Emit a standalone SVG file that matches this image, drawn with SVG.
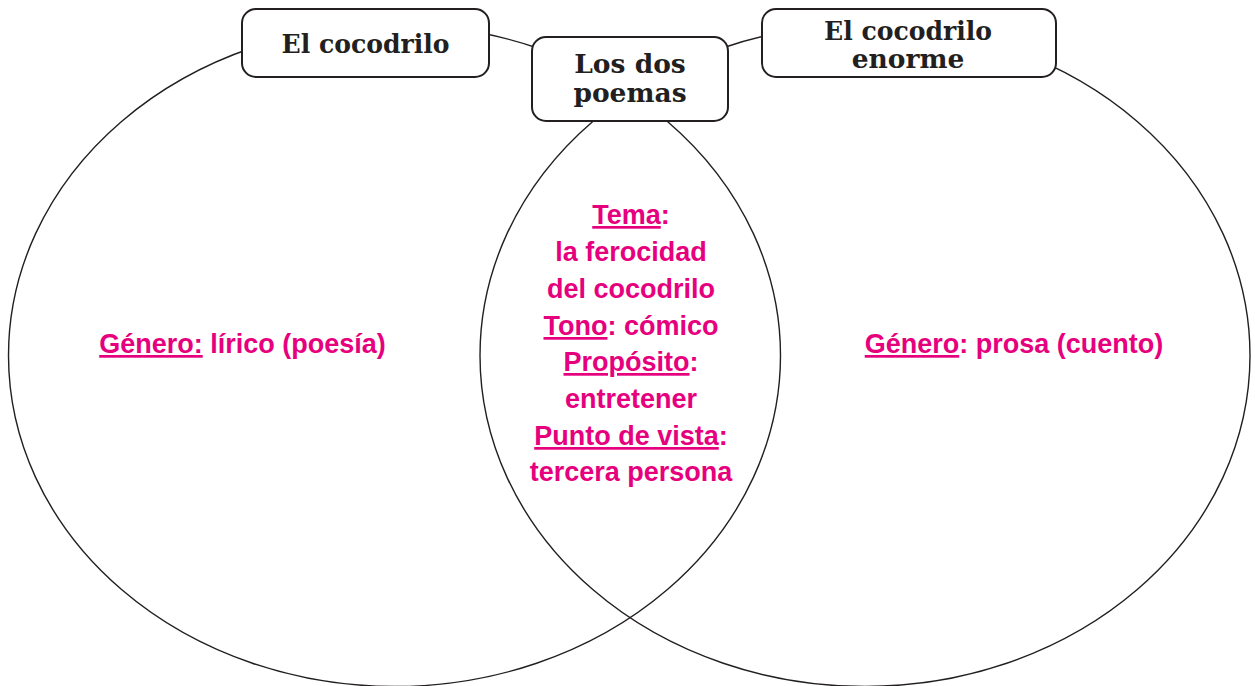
<svg xmlns="http://www.w3.org/2000/svg" width="1255" height="686" viewBox="0 0 1255 686">
<style>
.venn{fill:none;stroke:#231f20;stroke-width:1.4}
.box{fill:#fff;stroke:#231f20;stroke-width:2}
.hd{font-family:"DejaVu Serif",serif;font-weight:bold;font-size:26.5px;fill:#231f20;text-anchor:middle}
.pk{font-family:"Liberation Sans",Arial,sans-serif;font-weight:bold;font-size:27px;fill:#e6007e;text-anchor:middle}
.u{text-decoration:underline}
</style>
<rect width="1255" height="686" fill="#fff"/>
<g id="connectors">
<ellipse class="venn" cx="394.5" cy="355.5" rx="386" ry="331"/>
<ellipse class="venn" cx="865" cy="355.5" rx="385" ry="331"/>
</g>
<g id="node-cocodrilo">
<rect class="box" x="242" y="9" width="247" height="68" rx="14"/>
<text class="hd" x="365.5" y="53" textLength="168" lengthAdjust="spacingAndGlyphs">El cocodrilo</text>
</g>
<g id="node-dos">
<rect class="box" x="532" y="37" width="196" height="84" rx="14"/>
<text class="hd" x="630" y="73">Los dos</text>
<text class="hd" x="630" y="102">poemas</text>
</g>
<g id="node-enorme">
<rect class="box" x="762" y="9" width="294" height="68" rx="14"/>
<text class="hd" x="908" y="40" textLength="168" lengthAdjust="spacingAndGlyphs">El cocodrilo</text>
<text class="hd" x="908" y="68">enorme</text>
</g>
<g id="left-text">
<text class="pk" x="242.5" y="353"><tspan class="u">Género:</tspan> lírico (poesía)</text>
</g>
<g id="right-text">
<text class="pk" x="1014" y="353"><tspan class="u">Género</tspan>: prosa (cuento)</text>
</g>
<g id="center-text">
<text class="pk" x="631" y="224"><tspan class="u">Tema</tspan>:</text>
<text class="pk" x="631" y="261">la ferocidad</text>
<text class="pk" x="631" y="298">del cocodrilo</text>
<text class="pk" x="631" y="335"><tspan class="u">Tono</tspan>: cómico</text>
<text class="pk" x="631" y="371"><tspan class="u">Propósito</tspan>:</text>
<text class="pk" x="631" y="408">entretener</text>
<text class="pk" x="631" y="445"><tspan class="u">Punto de vista</tspan>:</text>
<text class="pk" x="631" y="481">tercera persona</text>
</g>
</svg>
